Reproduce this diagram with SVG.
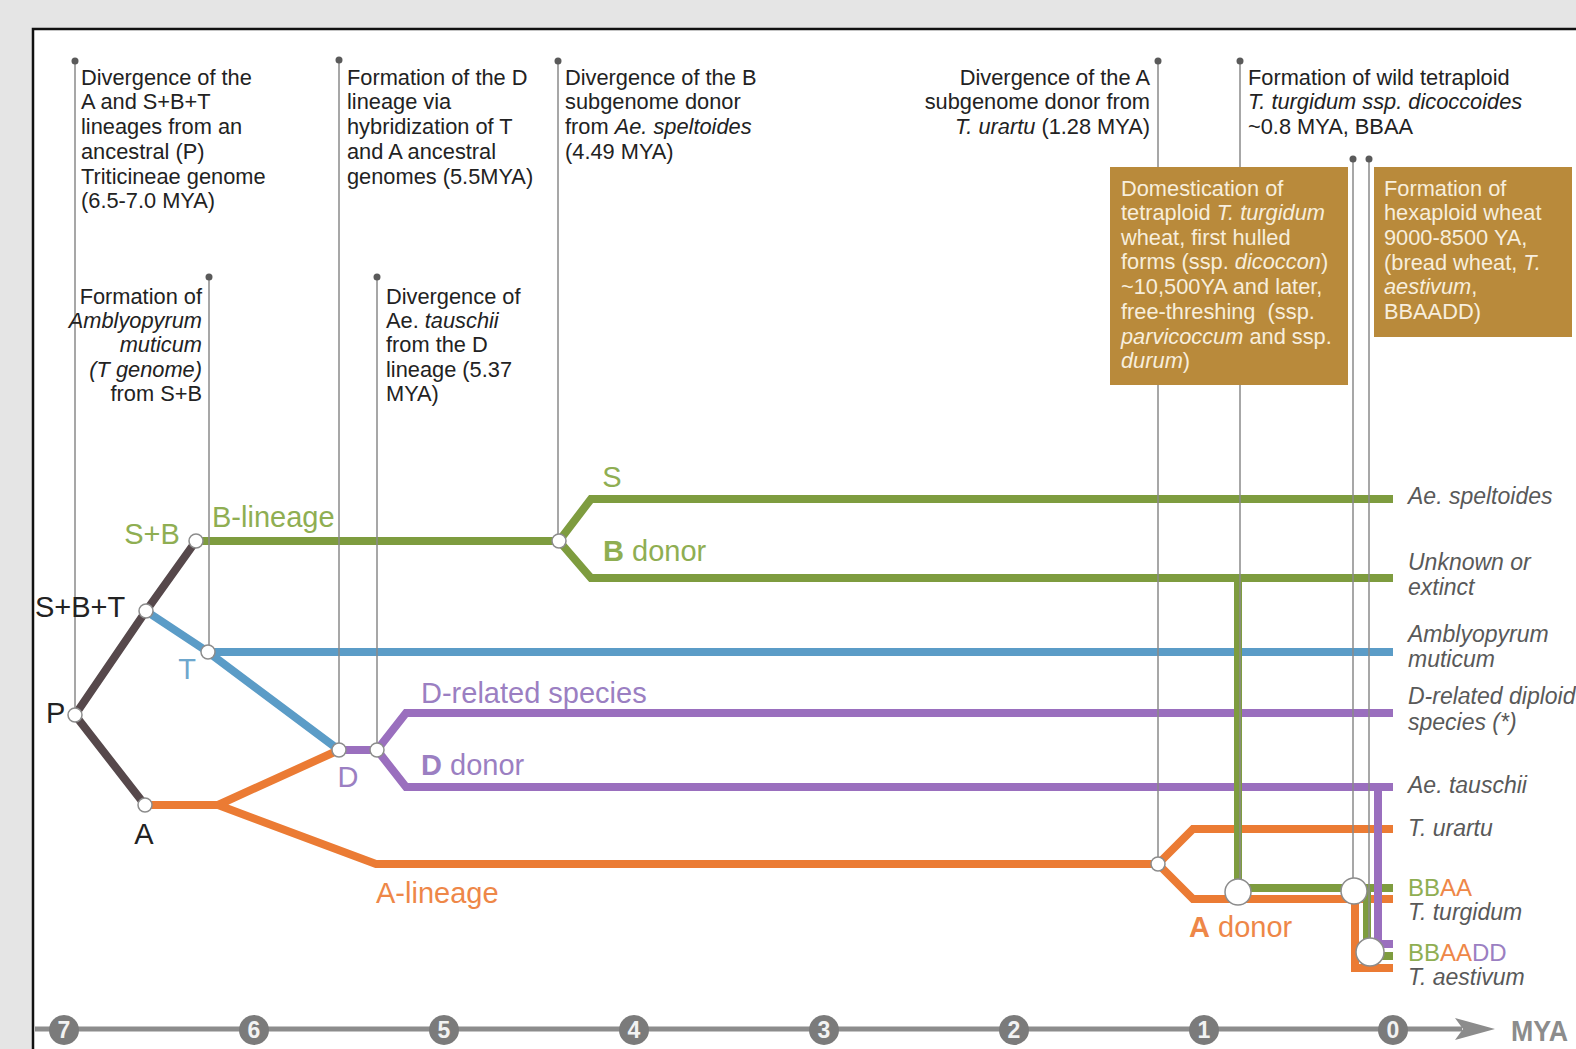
<svg xmlns="http://www.w3.org/2000/svg" width="1576" height="1049" viewBox="0 0 1576 1049">
  <defs>
    <style>
      text { font-family: "Liberation Sans", Arial, sans-serif; }
      .ann { font-size: 21.8px; fill: #222222; }
      .boxt { font-size: 21.8px; fill: #f7eedd; }
      .big { font-size: 29px; }
      .sp { font-size: 23px; font-style: italic; fill: #595959; }
      .it { font-style: italic; }
      .b { font-weight: bold; }
      .ev { stroke: #8a8a8a; stroke-width: 1.5; fill: none; }
      .evdot { fill: #5a5a5a; }
      .br { fill: none; stroke-width: 8; stroke-linejoin: miter; stroke-linecap: butt; }
      .dark { stroke: #56484b; }
      .green { stroke: #7e9c3f; }
      .blue { stroke: #5b9cc7; }
      .purple { stroke: #9a6fbe; }
      .orange { stroke: #eb7b34; }
      .nd { fill: #ffffff; stroke: #8c8c8c; stroke-width: 1.5; }
      .tg { fill: #8fae52; }
      .tb { fill: #6ea7cd; }
      .tp { fill: #9b7fc2; }
      .to { fill: #ee8748; }
      .tk { fill: #222222; }
      .box { fill: #b98a3b; }
      .tick { fill: #7b7b7b; }
      .tnum { font-size: 23px; font-weight: bold; fill: #f2f2f2; text-anchor: middle; }
    </style>
  </defs>

  <!-- page and frame -->
  <rect x="0" y="0" width="1576" height="1049" fill="#e5e5e5"/>
  <rect x="33" y="29" width="1543" height="1020" fill="#ffffff"/>
  <path d="M33,1049 V29 H1576" fill="none" stroke="#111111" stroke-width="2.5"/>

  <!-- time axis -->
  <g id="axis">
    <line x1="35" y1="1029" x2="1462" y2="1029" stroke="#8c8c8c" stroke-width="5"/>
    <polygon points="1455,1018 1495,1029 1455,1040 1463,1029" fill="#8c8c8c"/>
    <g>
      <circle class="tick" cx="64" cy="1030" r="15"/><text class="tnum" x="64" y="1038">7</text>
      <circle class="tick" cx="254" cy="1030" r="15"/><text class="tnum" x="254" y="1038">6</text>
      <circle class="tick" cx="444" cy="1030" r="15"/><text class="tnum" x="444" y="1038">5</text>
      <circle class="tick" cx="634" cy="1030" r="15"/><text class="tnum" x="634" y="1038">4</text>
      <circle class="tick" cx="824" cy="1030" r="15"/><text class="tnum" x="824" y="1038">3</text>
      <circle class="tick" cx="1014" cy="1030" r="15"/><text class="tnum" x="1014" y="1038">2</text>
      <circle class="tick" cx="1204" cy="1030" r="15"/><text class="tnum" x="1204" y="1038">1</text>
      <circle class="tick" cx="1393" cy="1030" r="15"/><text class="tnum" x="1393" y="1038">0</text>
    </g>
    <text x="1511" y="1041" font-size="30" font-weight="bold" fill="#8c8c8c" textLength="57" lengthAdjust="spacingAndGlyphs">MYA</text>
  </g>

  <!-- lineage branches -->
  <g id="connectors">
    <path class="br dark" d="M75,715 L146,611 L196,541 M75,715 L145,805"/>
    <path class="br blue" d="M146,611 L208,652 L339,750 M208,652 H1393"/>
    <path class="br purple" d="M339,750 H377 M377,750 L406,713 H1393 M377,750 L406,787 H1393"/>
    <path class="br orange" d="M145,805 H218 M218,805 L339,750 M218,805 L376,864 H1158 M1158,864 L1193,829 H1393 M1158,864 L1193,899 H1393 M1355,899 V968 H1393"/>
    <path class="br green" d="M196,541 H559 M559,541 L591,499 H1393 M559,541 L591,578 H1393 M1238,578 V892 M1238,888 H1393 M1367,888 V956 H1393"/>
    <path class="br purple" d="M1378,787 V944 H1393"/>

    <!-- event markers -->
    <path class="ev" d="M75,61 V715 M209,277 V652 M339,60 V750 M377,277 V750 M558,61 V541 M1158,61 V864 M1240,61 V892 M1353,159 V891 M1369,159 V952"/>
    <g class="evdot">
      <circle cx="75" cy="61" r="3.5"/>
      <circle cx="209" cy="277" r="3.5"/>
      <circle cx="339" cy="60" r="3.5"/>
      <circle cx="377" cy="277" r="3.5"/>
      <circle cx="558" cy="61" r="3.5"/>
      <circle cx="1158" cy="61" r="3.5"/>
      <circle cx="1240" cy="61" r="3.5"/>
      <circle cx="1353" cy="159" r="3.5"/>
      <circle cx="1369" cy="159" r="3.5"/>
    </g>
  </g>

  <!-- event notes -->
  <g id="note-P">
    <text class="ann" x="81" y="85">Divergence of the</text>
    <text class="ann" x="81" y="109">A and S+B+T</text>
    <text class="ann" x="81" y="134">lineages from an</text>
    <text class="ann" x="81" y="159">ancestral (P)</text>
    <text class="ann" x="81" y="184">Triticineae genome</text>
    <text class="ann" x="81" y="208">(6.5-7.0 MYA)</text>
  </g>
  <g id="note-Dformation">
    <text class="ann" x="347" y="85">Formation of the D</text>
    <text class="ann" x="347" y="109">lineage via</text>
    <text class="ann" x="347" y="134">hybridization of T</text>
    <text class="ann" x="347" y="159">and A ancestral</text>
    <text class="ann" x="347" y="184">genomes (5.5MYA)</text>
  </g>
  <g id="note-B">
    <text class="ann" x="565" y="85">Divergence of the B</text>
    <text class="ann" x="565" y="109">subgenome donor</text>
    <text class="ann" x="565" y="134">from <tspan class="it">Ae. speltoides</tspan></text>
    <text class="ann" x="565" y="159">(4.49 MYA)</text>
  </g>
  <g id="note-A" text-anchor="end">
    <text class="ann" x="1150" y="85">Divergence of the A</text>
    <text class="ann" x="1150" y="109">subgenome donor from</text>
    <text class="ann" x="1150" y="134"><tspan class="it">T. urartu</tspan> (1.28 MYA)</text>
  </g>
  <g id="note-tetraploid">
    <text class="ann" x="1248" y="85">Formation of wild tetraploid</text>
    <text class="ann it" x="1248" y="109">T. turgidum ssp. dicoccoides</text>
    <text class="ann" x="1248" y="134">~0.8 MYA, BBAA</text>
  </g>
  <g id="note-T" text-anchor="end">
    <text class="ann" x="202" y="304">Formation of</text>
    <text class="ann it" x="202" y="328">Amblyopyrum</text>
    <text class="ann it" x="202" y="352">muticum</text>
    <text class="ann it" x="202" y="377">(T genome)</text>
    <text class="ann" x="202" y="401">from S+B</text>
  </g>
  <g id="note-tauschii">
    <text class="ann" x="386" y="304">Divergence of</text>
    <text class="ann" x="386" y="328">Ae. <tspan class="it">tauschii</tspan></text>
    <text class="ann" x="386" y="352">from the D</text>
    <text class="ann" x="386" y="377">lineage (5.37</text>
    <text class="ann" x="386" y="401">MYA)</text>
  </g>
  <g id="note-domestication">
    <rect class="box" x="1110" y="167" width="238" height="218"/>
    <text class="boxt" x="1121" y="196">Domestication of</text>
    <text class="boxt" x="1121" y="220">tetraploid <tspan class="it">T. turgidum</tspan></text>
    <text class="boxt" x="1121" y="245">wheat, first hulled</text>
    <text class="boxt" x="1121" y="269">forms (ssp. <tspan class="it">dicoccon</tspan>)</text>
    <text class="boxt" x="1121" y="294">~10,500YA and later,</text>
    <text class="boxt" x="1121" y="319" xml:space="preserve">free-threshing  (ssp.</text>
    <text class="boxt" x="1121" y="344"><tspan class="it">parvicoccum</tspan> and ssp.</text>
    <text class="boxt" x="1121" y="368"><tspan class="it">durum</tspan>)</text>
  </g>
  <g id="note-hexaploid">
    <rect class="box" x="1374" y="167" width="198" height="170"/>
    <text class="boxt" x="1384" y="196">Formation of</text>
    <text class="boxt" x="1384" y="220">hexaploid wheat</text>
    <text class="boxt" x="1384" y="245">9000-8500 YA,</text>
    <text class="boxt" x="1384" y="270">(bread wheat, <tspan class="it">T.</tspan></text>
    <text class="boxt" x="1384" y="294"><tspan class="it">aestivum</tspan>,</text>
    <text class="boxt" x="1384" y="319">BBAADD)</text>
  </g>

  <!-- tree nodes -->
  <g id="node-P">
    <circle class="nd" cx="75" cy="715" r="7"/>
    <text class="big tk" x="46" y="723">P</text>
  </g>
  <g id="node-SBT">
    <circle class="nd" cx="146" cy="611" r="7"/>
    <text class="big tk" x="35" y="617">S+B+T</text>
  </g>
  <g id="node-SB">
    <circle class="nd" cx="196" cy="541" r="7"/>
    <text class="big tg" x="152" y="544" text-anchor="middle">S+B</text>
    <text class="big tg" x="212" y="527">B-lineage</text>
  </g>
  <g id="node-T">
    <circle class="nd" cx="208" cy="652" r="7"/>
    <text class="big tb" x="187" y="679" text-anchor="middle">T</text>
  </g>
  <g id="node-A">
    <circle class="nd" cx="145" cy="805" r="7"/>
    <text class="big tk" x="144" y="844" text-anchor="middle">A</text>
    <text class="big to" x="376" y="903">A-lineage</text>
  </g>
  <g id="node-D">
    <circle class="nd" cx="339" cy="750" r="7"/>
    <text class="big tp" x="348" y="787" text-anchor="middle">D</text>
  </g>
  <g id="node-Dsplit">
    <circle class="nd" cx="377" cy="750" r="7"/>
    <text class="big tp" x="421" y="703">D-related species</text>
    <text class="big tp" x="421" y="775"><tspan class="b">D</tspan> donor</text>
  </g>
  <g id="node-Bsplit">
    <circle class="nd" cx="559" cy="541" r="7"/>
    <text class="big tg" x="612" y="487" text-anchor="middle">S</text>
    <text class="big tg" x="603" y="561"><tspan class="b">B</tspan> donor</text>
  </g>
  <g id="node-Asplit">
    <circle class="nd" cx="1158" cy="864" r="7"/>
    <text class="big to" x="1189" y="937"><tspan class="b">A</tspan> donor</text>
  </g>
  <g id="node-tetraploid">
    <circle class="nd" cx="1238" cy="892" r="13"/>
  </g>
  <g id="node-tetraploid-dom">
    <circle class="nd" cx="1354" cy="891" r="13"/>
  </g>
  <g id="node-hexaploid">
    <circle class="nd" cx="1370" cy="952" r="14"/>
  </g>

  <!-- extant taxa -->
  <g id="taxa">
    <text class="sp" x="1408" y="504">Ae. speltoides</text>
    <text class="sp" x="1408" y="570">Unknown or</text>
    <text class="sp" x="1408" y="595">extinct</text>
    <text class="sp" x="1408" y="642">Amblyopyrum</text>
    <text class="sp" x="1408" y="667">muticum</text>
    <text class="sp" x="1408" y="704">D-related diploid</text>
    <text class="sp" x="1408" y="730">species (*)</text>
    <text class="sp" x="1408" y="793">Ae. tauschii</text>
    <text class="sp" x="1408" y="836">T. urartu</text>
    <text x="1408" y="896" font-size="24"><tspan class="tg">BB</tspan><tspan class="to">AA</tspan></text>
    <text class="sp" x="1408" y="920">T. turgidum</text>
    <text x="1408" y="961" font-size="24"><tspan class="tg">BB</tspan><tspan class="to">AA</tspan><tspan class="tp">DD</tspan></text>
    <text class="sp" x="1408" y="985">T. aestivum</text>
  </g>
</svg>
